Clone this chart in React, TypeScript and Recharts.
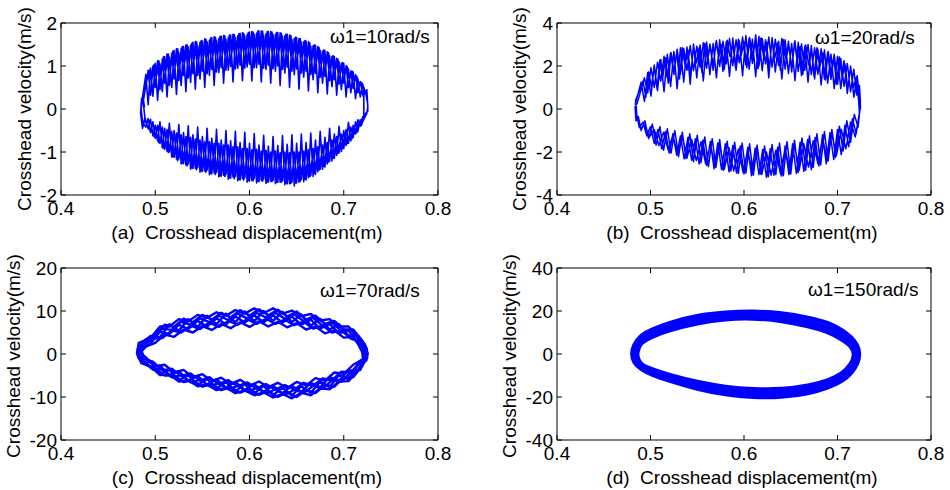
import React from 'react';
import { LineChart, Line, XAxis, YAxis } from 'recharts';

type Pt = [number, number];

const X_TICKS = [0.4, 0.5, 0.6, 0.7, 0.8];
const A_Y_TICKS = [-2, -1, 0, 1, 2];
const B_Y_TICKS = [-4, -2, 0, 2, 4];
const C_Y_TICKS = [-20, -10, 0, 10, 20];
const D_Y_TICKS = [-40, -20, 0, 20, 40];

const PANEL_TAGS = ['(a)', '(b)', '(c)', '(d)'];
const SPEEDS = ['ω1=10rad/s', 'ω1=20rad/s', 'ω1=70rad/s', 'ω1=150rad/s'];
const Y_TITLE = 'Crosshead velocity(m/s)';
const X_TITLE = 'Crosshead displacement(m)';

// (a) w1 = 10 rad/s : [displacement, velocity]
const A_TOP_1: Pt[] = [
  [0.485, 0.05], [0.49, 0.8], [0.4925, 0.1], [0.495, 0.95], [0.4975, 0.3], [0.5, 1.06], [0.5025, 0.2], [0.505, 1.05],
  [0.5075, 0.4], [0.51, 1.22], [0.5125, 0.28], [0.515, 1.2], [0.5175, 0.5], [0.52, 1.36], [0.5225, 0.34], [0.525, 1.31],
  [0.5275, 0.55], [0.53, 1.45], [0.5325, 0.4], [0.535, 1.44], [0.5375, 0.62], [0.54, 1.55], [0.5425, 0.46], [0.545, 1.47],
  [0.5475, 0.7], [0.55, 1.58], [0.5525, 0.5], [0.555, 1.56], [0.5575, 0.78], [0.56, 1.66], [0.5625, 0.55], [0.565, 1.6],
  [0.5675, 0.85], [0.57, 1.69], [0.5725, 0.6], [0.575, 1.62], [0.5775, 0.9], [0.58, 1.72], [0.5825, 0.63], [0.585, 1.66],
  [0.5875, 0.95], [0.59, 1.76], [0.5925, 0.66], [0.595, 1.7], [0.5975, 0.98], [0.6, 1.79], [0.6025, 0.65], [0.605, 1.74],
  [0.6075, 0.96], [0.61, 1.82], [0.6125, 0.63], [0.615, 1.72], [0.6175, 0.92], [0.62, 1.8], [0.6225, 0.6], [0.625, 1.73],
  [0.6275, 0.88], [0.63, 1.78], [0.6325, 0.55], [0.635, 1.69], [0.6375, 0.84], [0.64, 1.74], [0.6425, 0.5], [0.645, 1.62],
  [0.6475, 0.8], [0.65, 1.66], [0.6525, 0.46], [0.655, 1.55], [0.6575, 0.74], [0.66, 1.58], [0.6625, 0.42], [0.665, 1.46],
  [0.6675, 0.68], [0.67, 1.48], [0.6725, 0.38], [0.675, 1.36], [0.6775, 0.6], [0.68, 1.36], [0.6825, 0.35], [0.685, 1.24],
  [0.6875, 0.52], [0.69, 1.22], [0.6925, 0.32], [0.695, 1.1], [0.6975, 0.45], [0.7, 1.06], [0.7025, 0.28], [0.705, 0.93],
  [0.7075, 0.38], [0.71, 0.86], [0.7125, 0.24], [0.715, 0.7], [0.7175, 0.28], [0.72, 0.58], [0.7235, 0.35], [0.7255, 0.1],
];
const A_BOT_1: Pt[] = [
  [0.7255, -0.05], [0.72, -0.18], [0.7175, -0.4], [0.715, -0.25], [0.7125, -0.58], [0.71, -0.38], [0.7075, -0.74], [0.705, -0.31],
  [0.7025, -0.85], [0.7, -0.5], [0.6975, -0.99], [0.695, -0.4], [0.6925, -1.08], [0.69, -0.58], [0.6875, -1.21], [0.685, -0.45],
  [0.6825, -1.28], [0.68, -0.66], [0.6775, -1.4], [0.675, -0.52], [0.6725, -1.46], [0.67, -0.72], [0.6675, -1.57], [0.665, -0.56],
  [0.6625, -1.6], [0.66, -0.78], [0.6575, -1.69], [0.655, -0.58], [0.6525, -1.7], [0.65, -0.8], [0.6475, -1.79], [0.645, -0.6],
  [0.6425, -1.74], [0.64, -0.82], [0.6375, -1.76], [0.635, -0.62], [0.6325, -1.7], [0.63, -0.85], [0.6275, -1.74], [0.625, -0.64],
  [0.6225, -1.68], [0.62, -0.86], [0.6175, -1.73], [0.615, -0.61], [0.6125, -1.66], [0.61, -0.84], [0.6075, -1.72], [0.605, -0.57],
  [0.6025, -1.66], [0.6, -0.8], [0.5975, -1.7], [0.595, -0.54], [0.5925, -1.62], [0.59, -0.78], [0.5875, -1.67], [0.585, -0.52],
  [0.5825, -1.58], [0.58, -0.74], [0.5775, -1.63], [0.575, -0.5], [0.5725, -1.54], [0.57, -0.72], [0.5675, -1.58], [0.565, -0.47],
  [0.5625, -1.49], [0.56, -0.68], [0.5575, -1.53], [0.555, -0.45], [0.5525, -1.44], [0.55, -0.64], [0.5475, -1.47], [0.545, -0.42],
  [0.5425, -1.38], [0.54, -0.6], [0.5375, -1.4], [0.535, -0.39], [0.5325, -1.3], [0.53, -0.55], [0.5275, -1.28], [0.525, -0.36],
  [0.5225, -1.16], [0.52, -0.5], [0.5175, -1.12], [0.515, -0.33], [0.5125, -0.98], [0.51, -0.45], [0.5075, -0.9], [0.505, -0.3],
  [0.5025, -0.74], [0.5, -0.38], [0.4975, -0.62], [0.495, -0.24], [0.4925, -0.46], [0.489, -0.2], [0.4865, -0.45], [0.4845, -0.1],
  [0.4855, 0.25], [0.4885, 0.05],
];
const A_TOP_2: Pt[] = [
  [0.4875, 0.2], [0.4925, 0.9], [0.495, 0.32], [0.4975, 1.0], [0.5, 0.5], [0.5025, 1.12], [0.505, 0.45], [0.5075, 1.16],
  [0.51, 0.6], [0.5125, 1.28], [0.515, 0.55], [0.5175, 1.3], [0.52, 0.7], [0.5225, 1.4], [0.525, 0.66], [0.5275, 1.41],
  [0.53, 0.78], [0.5325, 1.49], [0.535, 0.72], [0.5375, 1.48], [0.54, 0.82], [0.5425, 1.57], [0.545, 0.78], [0.5475, 1.55],
  [0.55, 0.88], [0.5525, 1.63], [0.555, 0.82], [0.5575, 1.6], [0.56, 0.92], [0.5625, 1.68], [0.565, 0.86], [0.5675, 1.64],
  [0.57, 0.96], [0.5725, 1.71], [0.575, 0.9], [0.5775, 1.67], [0.58, 0.99], [0.5825, 1.74], [0.585, 0.93], [0.5875, 1.7],
  [0.59, 1.02], [0.5925, 1.77], [0.595, 0.95], [0.5975, 1.73], [0.6, 1.04], [0.6025, 1.8], [0.605, 0.96], [0.6075, 1.76],
  [0.61, 1.04], [0.6125, 1.81], [0.615, 0.95], [0.6175, 1.75], [0.62, 1.02], [0.6225, 1.8], [0.625, 0.94], [0.6275, 1.74],
  [0.63, 1.0], [0.6325, 1.77], [0.635, 0.92], [0.6375, 1.7], [0.64, 0.97], [0.6425, 1.72], [0.645, 0.88], [0.6475, 1.64],
  [0.65, 0.93], [0.6525, 1.64], [0.655, 0.84], [0.6575, 1.56], [0.66, 0.88], [0.6625, 1.56], [0.665, 0.8], [0.6675, 1.47],
  [0.67, 0.83], [0.6725, 1.45], [0.675, 0.74], [0.6775, 1.35], [0.68, 0.76], [0.6825, 1.33], [0.685, 0.66], [0.6875, 1.22],
  [0.69, 0.68], [0.6925, 1.18], [0.695, 0.58], [0.6975, 1.06], [0.7, 0.6], [0.7025, 1.01], [0.705, 0.5], [0.7075, 0.88],
  [0.71, 0.48], [0.7125, 0.8], [0.715, 0.38], [0.7175, 0.64], [0.7205, 0.3], [0.7245, 0.45], [0.7255, 0.05],
];
const A_BOT_2: Pt[] = [
  [0.7245, -0.1], [0.72, -0.3], [0.7175, -0.25], [0.715, -0.52], [0.7125, -0.3], [0.71, -0.66], [0.7075, -0.42], [0.705, -0.8],
  [0.7025, -0.48], [0.7, -0.92], [0.6975, -0.58], [0.695, -1.02], [0.6925, -0.64], [0.69, -1.15], [0.6875, -0.72], [0.685, -1.22],
  [0.6825, -0.78], [0.68, -1.35], [0.6775, -0.84], [0.675, -1.4], [0.6725, -0.88], [0.67, -1.52], [0.6675, -0.92], [0.665, -1.55],
  [0.6625, -0.95], [0.66, -1.65], [0.6575, -0.98], [0.655, -1.64], [0.6525, -1.0], [0.65, -1.72], [0.6475, -1.0], [0.645, -1.7],
  [0.6425, -1.02], [0.64, -1.74], [0.6375, -1.0], [0.635, -1.67], [0.6325, -1.02], [0.63, -1.71], [0.6275, -0.98], [0.625, -1.66],
  [0.6225, -1.0], [0.62, -1.7], [0.6175, -0.96], [0.615, -1.64], [0.6125, -0.98], [0.61, -1.69], [0.6075, -0.94], [0.605, -1.62],
  [0.6025, -0.95], [0.6, -1.68], [0.5975, -0.92], [0.595, -1.6], [0.5925, -0.92], [0.59, -1.65], [0.5875, -0.88], [0.585, -1.56],
  [0.5825, -0.88], [0.58, -1.61], [0.5775, -0.84], [0.575, -1.52], [0.5725, -0.84], [0.57, -1.56], [0.5675, -0.8], [0.565, -1.47],
  [0.5625, -0.8], [0.56, -1.51], [0.5575, -0.76], [0.555, -1.42], [0.5525, -0.76], [0.55, -1.45], [0.5475, -0.72], [0.545, -1.36],
  [0.5425, -0.7], [0.54, -1.38], [0.5375, -0.66], [0.535, -1.28], [0.5325, -0.64], [0.53, -1.27], [0.5275, -0.6], [0.525, -1.16],
  [0.5225, -0.56], [0.52, -1.12], [0.5175, -0.52], [0.515, -1.0], [0.5125, -0.48], [0.51, -0.94], [0.5075, -0.42], [0.505, -0.8],
  [0.5025, -0.38], [0.5, -0.68], [0.4975, -0.3], [0.495, -0.55], [0.4925, -0.22], [0.49, -0.42], [0.4865, -0.3], [0.485, 0.0],
  [0.487, 0.3],
];
const A_TOP_3: Pt[] = [
  [0.4938, 0.9], [0.4963, 0.67], [0.4988, 1.03], [0.5013, 0.77], [0.5038, 1.12], [0.5063, 0.83], [0.5088, 1.22], [0.5113, 0.9],
  [0.5138, 1.28], [0.5163, 0.95], [0.5188, 1.35], [0.5213, 1.0], [0.5238, 1.4], [0.5263, 1.05], [0.5288, 1.45], [0.5313, 1.09],
  [0.5338, 1.49], [0.5363, 1.13], [0.5388, 1.53], [0.5413, 1.16], [0.5438, 1.56], [0.5463, 1.19], [0.5488, 1.59], [0.5513, 1.21],
  [0.5538, 1.62], [0.5563, 1.23], [0.5588, 1.65], [0.5613, 1.25], [0.5638, 1.67], [0.5663, 1.27], [0.5688, 1.69], [0.5713, 1.28],
  [0.5738, 1.7], [0.5763, 1.29], [0.5788, 1.72], [0.5813, 1.31], [0.5838, 1.73], [0.5863, 1.32], [0.5888, 1.75], [0.5913, 1.33],
  [0.5938, 1.76], [0.5963, 1.35], [0.5988, 1.78], [0.6013, 1.36], [0.6038, 1.79], [0.6063, 1.37], [0.6088, 1.81], [0.6113, 1.38],
  [0.6138, 1.81], [0.6163, 1.38], [0.6188, 1.8], [0.6213, 1.37], [0.6238, 1.79], [0.6263, 1.36], [0.6288, 1.78], [0.6313, 1.35],
  [0.6338, 1.76], [0.6363, 1.33], [0.6388, 1.74], [0.6413, 1.31], [0.6438, 1.71], [0.6463, 1.29], [0.6488, 1.67], [0.6513, 1.26],
  [0.6538, 1.63], [0.6563, 1.23], [0.6588, 1.59], [0.6613, 1.2], [0.6638, 1.54], [0.6663, 1.17], [0.6688, 1.49], [0.6713, 1.13],
  [0.6738, 1.43], [0.6763, 1.09], [0.6788, 1.37], [0.6813, 1.04], [0.6838, 1.31], [0.6863, 0.99], [0.6888, 1.24], [0.6913, 0.94],
  [0.6938, 1.16], [0.6963, 0.88], [0.6988, 1.08], [0.7013, 0.82], [0.7038, 0.98], [0.7063, 0.75], [0.7088, 0.88], [0.7113, 0.65],
  [0.7138, 0.76], [0.7163, 0.56], [0.7188, 0.62], [0.7213, 0.45],
];
const A_BOT_3: Pt[] = [
  [0.7213, -0.2], [0.7188, -0.38], [0.7163, -0.33], [0.7138, -0.55], [0.7113, -0.44], [0.7088, -0.69], [0.7063, -0.56],
  [0.7038, -0.8], [0.7013, -0.65], [0.6988, -0.92], [0.6963, -0.75], [0.6938, -1.03], [0.6913, -0.83], [0.6888, -1.14],
  [0.6863, -0.93], [0.6838, -1.23], [0.6813, -1.0], [0.6788, -1.33], [0.6763, -1.08], [0.6738, -1.42], [0.6713, -1.14],
  [0.6688, -1.5], [0.6663, -1.2], [0.6638, -1.57], [0.6613, -1.25], [0.6588, -1.63], [0.6563, -1.29], [0.6538, -1.68],
  [0.6513, -1.32], [0.6488, -1.72], [0.6463, -1.34], [0.6438, -1.73], [0.6413, -1.36], [0.6388, -1.72], [0.6363, -1.34],
  [0.6338, -1.7], [0.6313, -1.34], [0.6288, -1.7], [0.6263, -1.32], [0.6238, -1.69], [0.6213, -1.33], [0.6188, -1.69],
  [0.6163, -1.31], [0.6138, -1.68], [0.6113, -1.31], [0.6088, -1.68], [0.6063, -1.29], [0.6038, -1.67], [0.6013, -1.29],
  [0.5988, -1.66], [0.5963, -1.27], [0.5938, -1.65], [0.5913, -1.27], [0.5888, -1.64], [0.5863, -1.24], [0.5838, -1.62],
  [0.5813, -1.23], [0.5788, -1.6], [0.5763, -1.2], [0.5738, -1.57], [0.5713, -1.19], [0.5688, -1.55], [0.5663, -1.16],
  [0.5638, -1.52], [0.5613, -1.14], [0.5588, -1.5], [0.5563, -1.11], [0.5538, -1.47], [0.5513, -1.1], [0.5488, -1.44],
  [0.5463, -1.06], [0.5438, -1.41], [0.5413, -1.04], [0.5388, -1.37], [0.5363, -1.0], [0.5338, -1.32], [0.5313, -0.96],
  [0.5288, -1.26], [0.5263, -0.92], [0.5238, -1.2], [0.5213, -0.87], [0.5188, -1.11], [0.5163, -0.81], [0.5138, -1.01],
  [0.5113, -0.74], [0.5088, -0.91], [0.5063, -0.66], [0.5038, -0.78], [0.5013, -0.58], [0.4988, -0.64], [0.4963, -0.47],
  [0.4938, -0.48], [0.4895, -0.3], [0.4875, 0.1],
];

// (b) w1 = 20 rad/s
const B_TOP_1: Pt[] = [
  [0.4835, 0.2], [0.49, 1.25], [0.4935, 0.35], [0.497, 1.7], [0.5005, 0.6], [0.504, 2.05], [0.5075, 0.85], [0.511, 2.3],
  [0.5145, 0.8], [0.518, 2.55], [0.5215, 1.05], [0.525, 2.68], [0.5285, 0.95], [0.532, 2.85], [0.5355, 1.25], [0.539, 2.88],
  [0.5425, 1.15], [0.546, 3.02], [0.5495, 1.45], [0.553, 2.98], [0.5565, 1.3], [0.56, 3.12], [0.5635, 1.6], [0.567, 3.05],
  [0.5705, 1.45], [0.574, 3.22], [0.5775, 1.75], [0.581, 3.12], [0.5845, 1.52], [0.588, 3.3], [0.5915, 1.8], [0.595, 3.18],
  [0.5985, 1.55], [0.602, 3.42], [0.6055, 1.85], [0.609, 3.25], [0.6125, 1.5], [0.616, 3.38], [0.6195, 1.78], [0.623, 3.22],
  [0.6265, 1.45], [0.63, 3.32], [0.6335, 1.72], [0.637, 3.15], [0.6405, 1.4], [0.644, 3.22], [0.6475, 1.65], [0.651, 3.05],
  [0.6545, 1.32], [0.658, 3.1], [0.6615, 1.55], [0.665, 2.92], [0.6685, 1.25], [0.672, 2.95], [0.6755, 1.4], [0.679, 2.78],
  [0.6825, 1.12], [0.686, 2.75], [0.6895, 1.2], [0.693, 2.55], [0.6965, 0.95], [0.7, 2.45], [0.7035, 0.95], [0.707, 2.25],
  [0.7105, 0.72], [0.714, 2.0], [0.7175, 0.55], [0.721, 1.55], [0.7235, 0.6], [0.7245, 0.0],
];
const B_BOT_1: Pt[] = [
  [0.7245, 0.2], [0.722, -0.85], [0.718, -0.25], [0.714, -1.55], [0.71, -0.55], [0.706, -1.95], [0.702, -0.8], [0.698, -2.25],
  [0.694, -0.95], [0.69, -2.42], [0.686, -1.05], [0.682, -2.6], [0.678, -1.15], [0.674, -2.72], [0.67, -1.25], [0.666, -2.85],
  [0.662, -1.35], [0.658, -2.95], [0.654, -1.45], [0.65, -3.02], [0.646, -1.52], [0.642, -3.1], [0.638, -1.58], [0.634, -3.05],
  [0.63, -1.65], [0.626, -3.15], [0.622, -1.72], [0.618, -3.02], [0.614, -1.68], [0.61, -3.08], [0.606, -1.62], [0.602, -2.98],
  [0.598, -1.58], [0.594, -3.0], [0.59, -1.55], [0.586, -2.88], [0.582, -1.5], [0.578, -2.85], [0.574, -1.42], [0.57, -2.72],
  [0.566, -1.38], [0.562, -2.68], [0.558, -1.3], [0.554, -2.5], [0.55, -1.22], [0.546, -2.45], [0.542, -1.15], [0.538, -2.3],
  [0.534, -1.08], [0.53, -2.22], [0.526, -1.0], [0.522, -2.05], [0.518, -0.92], [0.514, -1.92], [0.51, -0.82], [0.506, -1.68],
  [0.502, -0.7], [0.498, -1.38], [0.494, -0.55], [0.49, -1.0], [0.487, -0.35], [0.4845, -0.55], [0.4835, 0.1],
];
const B_TOP_2: Pt[] = [
  [0.486, 0.3], [0.4935, 1.45], [0.497, 0.75], [0.5005, 1.92], [0.504, 1.0], [0.5075, 2.18], [0.511, 1.3], [0.5145, 2.45],
  [0.518, 1.45], [0.5215, 2.62], [0.525, 1.6], [0.5285, 2.78], [0.532, 1.62], [0.5355, 2.82], [0.539, 1.8], [0.5425, 2.95],
  [0.546, 1.78], [0.5495, 2.92], [0.553, 1.95], [0.5565, 3.08], [0.56, 1.9], [0.5635, 3.02], [0.567, 2.05], [0.5705, 3.18],
  [0.574, 1.98], [0.5775, 3.15], [0.581, 2.1], [0.5845, 3.28], [0.588, 2.02], [0.5915, 3.22], [0.595, 2.15], [0.5985, 3.35],
  [0.602, 2.05], [0.6055, 3.3], [0.609, 2.12], [0.6125, 3.45], [0.616, 2.0], [0.6195, 3.28], [0.623, 2.1], [0.6265, 3.35],
  [0.63, 1.95], [0.6335, 3.25], [0.637, 2.02], [0.6405, 3.28], [0.644, 1.85], [0.6475, 3.15], [0.651, 1.92], [0.6545, 3.18],
  [0.658, 1.75], [0.6615, 3.02], [0.665, 1.8], [0.6685, 3.0], [0.672, 1.6], [0.6755, 2.85], [0.679, 1.62], [0.6825, 2.8],
  [0.686, 1.4], [0.6895, 2.62], [0.693, 1.38], [0.6965, 2.55], [0.7, 1.15], [0.7035, 2.35], [0.707, 1.05], [0.7105, 2.12],
  [0.714, 0.8], [0.7175, 1.85], [0.7205, 0.65], [0.7235, 1.1], [0.7245, 0.3],
];
const B_BOT_2: Pt[] = [
  [0.724, 0.0], [0.72, -1.15], [0.716, -0.45], [0.712, -1.75], [0.708, -0.75], [0.704, -2.12], [0.7, -0.95], [0.696, -2.35],
  [0.692, -1.1], [0.688, -2.55], [0.684, -1.2], [0.68, -2.65], [0.676, -1.32], [0.672, -2.82], [0.668, -1.42], [0.664, -2.9],
  [0.66, -1.55], [0.656, -3.0], [0.652, -1.62], [0.648, -3.05], [0.644, -1.72], [0.64, -3.12], [0.636, -1.78], [0.632, -3.08],
  [0.628, -1.85], [0.624, -3.18], [0.62, -1.88], [0.616, -3.05], [0.612, -1.82], [0.608, -3.1], [0.604, -1.78], [0.6, -3.02],
  [0.596, -1.72], [0.592, -2.98], [0.588, -1.7], [0.584, -2.92], [0.58, -1.62], [0.576, -2.82], [0.572, -1.58], [0.568, -2.78],
  [0.564, -1.5], [0.56, -2.62], [0.556, -1.45], [0.552, -2.55], [0.548, -1.38], [0.544, -2.38], [0.54, -1.32], [0.536, -2.32],
  [0.532, -1.25], [0.528, -2.15], [0.524, -1.15], [0.52, -2.05], [0.516, -1.05], [0.512, -1.85], [0.508, -0.95], [0.504, -1.6],
  [0.5, -0.82], [0.496, -1.25], [0.492, -0.62], [0.488, -0.85], [0.485, -0.2], [0.484, 0.4],
];
const B_TOP_3: Pt[] = [
  [0.4875, 0.8], [0.492, 1.3], [0.495, 0.55], [0.498, 1.72], [0.501, 1.05], [0.504, 1.95], [0.507, 0.95], [0.51, 2.28],
  [0.513, 1.45], [0.516, 2.38], [0.519, 1.2], [0.522, 2.62], [0.525, 1.75], [0.528, 2.62], [0.531, 1.4], [0.534, 2.85],
  [0.537, 2.0], [0.54, 2.75], [0.543, 1.55], [0.546, 2.95], [0.549, 2.15], [0.552, 2.85], [0.555, 1.7], [0.558, 3.05],
  [0.561, 2.3], [0.564, 2.92], [0.567, 1.8], [0.57, 3.12], [0.573, 2.4], [0.576, 3.0], [0.579, 1.85], [0.582, 3.2],
  [0.585, 2.45], [0.588, 3.05], [0.591, 1.9], [0.594, 3.25], [0.597, 2.5], [0.6, 3.12], [0.603, 1.92], [0.606, 3.32],
  [0.609, 2.48], [0.612, 3.15], [0.615, 1.88], [0.618, 3.3], [0.621, 2.42], [0.624, 3.12], [0.627, 1.85], [0.63, 3.28],
  [0.633, 2.38], [0.636, 3.08], [0.639, 1.8], [0.642, 3.22], [0.645, 2.3], [0.648, 3.0], [0.651, 1.72], [0.654, 3.12],
  [0.657, 2.2], [0.66, 2.9], [0.663, 1.62], [0.666, 2.98], [0.669, 2.05], [0.672, 2.78], [0.675, 1.5], [0.678, 2.85],
  [0.681, 1.9], [0.684, 2.6], [0.687, 1.35], [0.69, 2.68], [0.693, 1.7], [0.696, 2.4], [0.699, 1.15], [0.702, 2.42],
  [0.705, 1.45], [0.708, 2.1], [0.711, 0.9], [0.714, 2.0], [0.717, 1.0], [0.72, 1.45], [0.7225, 0.45], [0.7235, -0.2],
];
const B_BOT_3: Pt[] = [
  [0.719, -1.3], [0.714, -0.6], [0.709, -1.85], [0.704, -0.95], [0.699, -2.15], [0.694, -1.2], [0.689, -2.38], [0.684, -1.35],
  [0.679, -2.55], [0.674, -1.48], [0.669, -2.7], [0.664, -1.62], [0.659, -2.85], [0.654, -1.72], [0.649, -2.95], [0.644, -1.82],
  [0.639, -3.02], [0.634, -1.92], [0.629, -3.08], [0.624, -2.0], [0.619, -3.05], [0.614, -1.95], [0.609, -3.0], [0.604, -1.9],
  [0.599, -2.95], [0.594, -1.86], [0.589, -2.88], [0.584, -1.8], [0.579, -2.8], [0.574, -1.72], [0.569, -2.68], [0.564, -1.62],
  [0.559, -2.55], [0.554, -1.52], [0.549, -2.4], [0.544, -1.42], [0.539, -2.28], [0.534, -1.32], [0.529, -2.12], [0.524, -1.2],
  [0.519, -1.92], [0.514, -1.08], [0.509, -1.7], [0.504, -0.95], [0.499, -1.3], [0.494, -0.75], [0.489, -0.9], [0.4855, -0.4],
  [0.4845, 0.3],
];

// (c) w1 = 70 rad/s
const C_LOOP_1: Pt[] = [
  [0.481, 0.3], [0.484, 1.8], [0.49, 3.4], [0.5, 4.5], [0.51, 6.8], [0.52, 6.3], [0.53, 8.2], [0.54, 7.4], [0.55, 9.1],
  [0.56, 8.0], [0.57, 9.6], [0.58, 8.5], [0.59, 10.2], [0.6, 8.9], [0.61, 10.4], [0.62, 9.0], [0.63, 10.3], [0.64, 8.7],
  [0.65, 9.9], [0.66, 8.0], [0.67, 8.9], [0.68, 7.0], [0.69, 7.7], [0.7, 5.7], [0.71, 5.7], [0.72, 3.0], [0.7245, 1.2],
  [0.725, -0.8], [0.72, -2.6], [0.71, -5.4], [0.7, -5.5], [0.69, -7.6], [0.68, -7.2], [0.67, -9.1], [0.66, -8.4], [0.65, -10.0],
  [0.64, -8.9], [0.63, -10.0], [0.62, -8.6], [0.61, -9.5], [0.6, -8.1], [0.59, -9.0], [0.58, -7.7], [0.57, -8.4], [0.56, -7.0],
  [0.55, -7.6], [0.54, -6.1], [0.53, -6.5], [0.52, -5.0], [0.51, -5.0], [0.5, -3.4], [0.49, -2.5], [0.484, -1.2], [0.4815, 0.0],
];
const C_LOOP_2: Pt[] = [
  [0.4825, -0.5], [0.4835, 1.0], [0.495, 2.4], [0.505, 5.2], [0.515, 4.6], [0.525, 6.8], [0.535, 5.8], [0.545, 7.7],
  [0.555, 6.4], [0.565, 8.3], [0.575, 6.9], [0.585, 8.7], [0.595, 7.3], [0.605, 9.0], [0.615, 7.4], [0.625, 9.0], [0.635, 7.3],
  [0.645, 8.7], [0.655, 6.8], [0.665, 8.0], [0.675, 5.9], [0.685, 7.0], [0.695, 4.8], [0.705, 5.5], [0.715, 2.6], [0.7225, 1.5],
  [0.7235, -1.0], [0.715, -3.8], [0.705, -3.8], [0.695, -6.2], [0.685, -5.4], [0.675, -7.7], [0.665, -6.7], [0.655, -8.8],
  [0.645, -7.4], [0.635, -9.1], [0.625, -7.4], [0.615, -8.8], [0.605, -7.0], [0.595, -8.4], [0.585, -6.5], [0.575, -7.8],
  [0.565, -5.9], [0.555, -7.1], [0.545, -5.1], [0.535, -6.2], [0.525, -4.0], [0.515, -4.9], [0.505, -2.7], [0.495, -3.0],
  [0.487, -1.5], [0.4825, -0.3],
];
const C_LOOP_3: Pt[] = [
  [0.4835, 0.0], [0.487, 1.0], [0.49, 1.7], [0.5, 2.6], [0.51, 4.5], [0.52, 4.0], [0.53, 5.7], [0.54, 5.0], [0.55, 6.5],
  [0.56, 5.6], [0.57, 7.0], [0.58, 6.0], [0.59, 7.4], [0.6, 6.3], [0.61, 7.6], [0.62, 6.4], [0.63, 7.5], [0.64, 6.2],
  [0.65, 7.2], [0.66, 5.7], [0.67, 6.4], [0.68, 4.8], [0.69, 5.5], [0.7, 3.8], [0.71, 4.0], [0.716, 2.0], [0.7195, 0.5],
  [0.7205, -1.2], [0.71, -2.5], [0.7, -4.6], [0.69, -4.3], [0.68, -6.2], [0.67, -5.6], [0.66, -7.3], [0.65, -6.5], [0.64, -7.9],
  [0.63, -6.7], [0.62, -7.7], [0.61, -6.4], [0.6, -7.4], [0.59, -6.0], [0.58, -7.0], [0.57, -5.5], [0.56, -6.3], [0.55, -4.7],
  [0.54, -5.4], [0.53, -3.7], [0.52, -4.3], [0.51, -2.5], [0.5, -2.9], [0.49, -0.8], [0.487, -0.2], [0.4855, 0.8],
];
const C_LOOP_4: Pt[] = [
  [0.4815, 1.2], [0.4845, 2.2], [0.495, 4.2], [0.505, 3.9], [0.515, 6.9], [0.525, 5.4], [0.535, 8.1], [0.545, 6.3],
  [0.555, 8.9], [0.565, 6.9], [0.575, 9.4], [0.585, 7.4], [0.595, 9.9], [0.605, 7.6], [0.615, 10.0], [0.625, 7.7], [0.635, 9.8],
  [0.645, 7.4], [0.655, 9.2], [0.665, 6.6], [0.675, 8.2], [0.685, 5.7], [0.695, 6.9], [0.705, 4.3], [0.715, 4.3], [0.7215, 2.0],
  [0.7245, 0.2], [0.724, -1.5], [0.715, -2.6], [0.705, -5.9], [0.695, -4.9], [0.685, -7.7], [0.675, -6.4], [0.665, -9.0],
  [0.655, -7.5], [0.645, -9.7], [0.635, -7.8], [0.625, -9.6], [0.615, -7.4], [0.605, -9.2], [0.595, -7.0], [0.585, -8.7],
  [0.575, -6.5], [0.565, -8.0], [0.555, -5.8], [0.545, -7.2], [0.535, -4.9], [0.525, -6.1], [0.515, -3.7], [0.505, -4.6],
  [0.495, -1.9], [0.4875, -2.0], [0.482, -0.8], [0.4815, 1.2],
];
const C_LOOP_5: Pt[] = [
  [0.4825, 0.6], [0.4865, 2.4], [0.4975, 3.5], [0.5075, 5.9], [0.5175, 5.6], [0.5275, 7.5], [0.5375, 6.8], [0.5475, 8.3],
  [0.5575, 7.4], [0.5675, 8.9], [0.5775, 7.9], [0.5875, 9.4], [0.5975, 8.3], [0.6075, 9.6], [0.6175, 8.5], [0.6275, 9.6],
  [0.6375, 8.2], [0.6475, 9.2], [0.6575, 7.7], [0.6675, 8.4], [0.6775, 6.6], [0.6875, 7.3], [0.6975, 5.4], [0.7075, 5.6],
  [0.7175, 2.9], [0.7225, 1.5], [0.724, -0.5], [0.7175, -3.7], [0.7075, -4.3], [0.6975, -6.4], [0.6875, -6.1], [0.6775, -8.1],
  [0.6675, -7.4], [0.6575, -9.1], [0.6475, -8.3], [0.6375, -9.5], [0.6275, -8.2], [0.6175, -9.2], [0.6075, -7.9], [0.5975, -8.8],
  [0.5875, -7.4], [0.5775, -8.2], [0.5675, -6.8], [0.5575, -7.5], [0.5475, -6.0], [0.5375, -6.6], [0.5275, -4.9], [0.5175, -5.4],
  [0.5075, -3.5], [0.4975, -3.6], [0.4875, -1.8], [0.4825, -0.4],
];
const C_LOOP_6: Pt[] = [
  [0.4845, -0.3], [0.4855, 1.5], [0.4975, 3.6], [0.5075, 3.7], [0.5175, 5.5], [0.5275, 5.0], [0.5375, 6.6], [0.5475, 5.8],
  [0.5575, 7.3], [0.5675, 6.3], [0.5775, 7.7], [0.5875, 6.8], [0.5975, 8.1], [0.6075, 7.0], [0.6175, 8.2], [0.6275, 7.0],
  [0.6375, 8.0], [0.6475, 6.7], [0.6575, 7.5], [0.6675, 5.9], [0.6775, 6.6], [0.6875, 5.0], [0.6975, 5.5], [0.7075, 3.6],
  [0.7175, 2.8], [0.721, 0.8], [0.7215, -1.0], [0.7175, -1.8], [0.7075, -4.3], [0.6975, -4.1], [0.6875, -6.1], [0.6775, -5.7],
  [0.6675, -7.4], [0.6575, -6.7], [0.6475, -8.3], [0.6375, -7.2], [0.6275, -8.3], [0.6175, -7.0], [0.6075, -8.0], [0.5975, -6.6],
  [0.5875, -7.5], [0.5775, -6.1], [0.5675, -7.0], [0.5575, -5.4], [0.5475, -6.2], [0.5375, -4.5], [0.5275, -5.1], [0.5175, -3.4],
  [0.5075, -3.8], [0.4975, -1.8], [0.4885, -1.2], [0.4845, -0.3],
];
const C_LOOP_7: Pt[] = [
  [0.4805, 0.0], [0.4825, 2.6], [0.495, 3.7], [0.505, 6.4], [0.515, 6.4], [0.525, 8.1], [0.535, 7.6], [0.545, 9.1],
  [0.555, 8.4], [0.565, 9.7], [0.575, 8.9], [0.585, 10.2], [0.595, 9.4], [0.605, 10.6], [0.615, 9.5], [0.625, 10.6],
  [0.635, 9.4], [0.645, 10.1], [0.655, 8.8], [0.665, 9.3], [0.675, 7.8], [0.685, 8.1], [0.695, 6.4], [0.705, 6.4],
  [0.715, 4.1], [0.7225, 2.2], [0.7255, 0.0], [0.715, -3.8], [0.705, -6.3], [0.695, -6.4], [0.685, -8.2], [0.675, -8.0],
  [0.665, -9.6], [0.655, -9.0], [0.645, -10.3], [0.635, -9.3], [0.625, -10.1], [0.615, -8.9], [0.605, -9.6], [0.595, -8.4],
  [0.585, -9.1], [0.575, -7.8], [0.565, -8.4], [0.555, -7.1], [0.545, -7.5], [0.535, -6.1], [0.525, -6.4], [0.515, -4.8],
  [0.505, -4.9], [0.495, -2.8], [0.4855, -2.2], [0.4805, 0.0],
];

// (d) w1 = 150 rad/s
const D_LOOP_1: Pt[] = [
  [0.4799, 0.0], [0.4819, 4.0], [0.49, 8.8], [0.5, 11.1], [0.52, 14.5], [0.55, 17.9], [0.58, 19.3], [0.61, 19.8],
  [0.64, 19.1], [0.67, 16.8], [0.69, 14.6], [0.705, 11.1], [0.715, 7.6], [0.7216, 4.0], [0.7235, 0.0], [0.722, -4.0],
  [0.715, -8.9], [0.705, -12.6], [0.69, -15.6], [0.67, -18.3], [0.64, -20.1], [0.61, -20.1], [0.58, -18.9], [0.55, -16.3],
  [0.52, -12.4], [0.5, -9.3], [0.49, -7.1], [0.4821, -4.0],
];
const D_LOOP_2: Pt[] = [
  [0.4824, 0.0], [0.4851, 4.0], [0.49, 7.1], [0.5, 9.6], [0.52, 12.9], [0.55, 16.2], [0.58, 17.9], [0.61, 18.3],
  [0.64, 17.3], [0.67, 14.9], [0.69, 12.5], [0.705, 9.0], [0.715, 5.7], [0.7195, 4.0], [0.7213, 0.0], [0.7191, -4.0],
  [0.715, -6.9], [0.705, -11.0], [0.69, -14.1], [0.67, -16.5], [0.64, -18.3], [0.61, -18.3], [0.58, -17.2], [0.55, -14.8],
  [0.52, -11.2], [0.5, -8.2], [0.49, -6.1], [0.4852, -4.0],
];
const D_LOOP_3: Pt[] = [
  [0.4848, 0.0], [0.4882, 4.0], [0.49, 5.3], [0.5, 8.0], [0.52, 11.2], [0.55, 14.5], [0.58, 16.5], [0.61, 16.8],
  [0.64, 15.6], [0.67, 13.0], [0.69, 10.4], [0.705, 6.9], [0.715, 3.7], [0.719, 0.0], [0.715, -4.9], [0.705, -9.3],
  [0.69, -12.5], [0.67, -14.8], [0.64, -16.6], [0.61, -16.5], [0.58, -15.5], [0.55, -13.2], [0.52, -9.9], [0.5, -7.0],
  [0.49, -5.0], [0.4872, -3.0],
];

const FONT = '"Liberation Sans", Arial, Helvetica, sans-serif';
const BLUE = '#0000ff';
const tickStyle = { fill: '#000', fontSize: 19, fontFamily: FONT };
const noLabel = () => '';

const toRows = (pts: Pt[]) => pts.map(([x, v]) => ({ x, v }));

interface PanelProps {
  left: number;
  top: number;
  padLeft: number;
  padRight: number;
  yTicks: number[];
  paths: Pt[][];
  width?: number;
  curve?: 'linear' | 'basisClosed';
}

const Panel = ({ left, top, padLeft, padRight, yTicks, paths, width = 1, curve = 'linear' }: PanelProps) => {
  const yDomain = [yTicks[0], yTicks[yTicks.length - 1]];
  return (
    <div style={{ position: 'absolute', left, top }}>
      <LineChart width={475} height={245} margin={{ top: 22, right: padRight, bottom: 0, left: padLeft }}>
        <XAxis xAxisId="b" type="number" dataKey="x" domain={[0.4, 0.8]} ticks={X_TICKS} interval={0}
          allowDataOverflow height={50} tickSize={-5} tickMargin={12} stroke="#000" tick={tickStyle} />
        <XAxis xAxisId="t" orientation="top" type="number" dataKey="x" domain={[0.4, 0.8]} ticks={X_TICKS}
          interval={0} allowDataOverflow height={1} tickSize={-5} stroke="#000" tickFormatter={noLabel} />
        <YAxis yAxisId="l" type="number" domain={yDomain} ticks={yTicks} interval={0} allowDataOverflow
          width={40} tickSize={-5} tickMargin={9} stroke="#000" tick={tickStyle} />
        <YAxis yAxisId="r" orientation="right" type="number" domain={yDomain} ticks={yTicks} interval={0}
          allowDataOverflow width={1} tickSize={-5} stroke="#000" tickFormatter={noLabel} />
        {paths.map((p, i) => (
          <Line key={i} xAxisId="b" yAxisId="l" data={toRows(p)} dataKey="v" type={curve}
            stroke={BLUE} strokeWidth={width} strokeLinejoin="round" dot={false} activeDot={false}
            isAnimationActive={false} />
        ))}
      </LineChart>
    </div>
  );
};

const titleStyle = { fill: '#000', fontSize: 19, fontFamily: FONT, whiteSpace: 'pre' as const };

// per panel: y title baseline x, y title centre y, x title centre x, x title baseline, note x, note baseline
const LABEL_POS = [
  [31, 109, 247, 239, 330, 43],
  [526, 109, 742, 239, 815, 44],
  [20, 356, 247, 484, 320, 297],
  [516, 356, 742, 484, 808, 296],
];

export default function App() {
  return (
    <div style={{ position: 'absolute', left: 0, top: 0, width: 950, height: 490, background: '#fff', overflow: 'hidden' }}>
      <Panel left={0} top={0} padLeft={21} padRight={36} yTicks={A_Y_TICKS} width={1.6}
        paths={[[...A_TOP_1, ...A_BOT_1, ...A_TOP_2, ...A_BOT_2, ...A_TOP_3, ...A_BOT_3]]} />
      <Panel left={475} top={0} padLeft={42} padRight={18} yTicks={B_Y_TICKS} width={1.5}
        paths={[[...B_TOP_1, ...B_BOT_1, ...B_TOP_2, ...B_BOT_2, ...B_TOP_3, ...B_BOT_3]]} />
      <Panel left={0} top={245} padLeft={21} padRight={36} yTicks={C_Y_TICKS} width={2.4}
        paths={[C_LOOP_1, C_LOOP_2, C_LOOP_3, C_LOOP_4, C_LOOP_5, C_LOOP_6, C_LOOP_7]} />
      <Panel left={475} top={245} padLeft={42} padRight={18} yTicks={D_Y_TICKS}
        paths={[D_LOOP_1, D_LOOP_2, D_LOOP_3]} width={4.5} curve="basisClosed" />
      <svg width={950} height={490} style={{ position: 'absolute', left: 0, top: 0, pointerEvents: 'none' }}>
        {LABEL_POS.map(([yx, yy, xx, xy, nx, ny], i) => (
          <g key={i}>
            <text transform={`translate(${yx},${yy}) rotate(-90)`} textAnchor="middle" style={titleStyle}>{Y_TITLE}</text>
            <text x={xx} y={xy} textAnchor="middle" style={titleStyle}>{`${PANEL_TAGS[i]}  ${X_TITLE}`}</text>
            <text x={nx} y={ny} style={titleStyle}>{SPEEDS[i]}</text>
          </g>
        ))}
      </svg>
    </div>
  );
}
